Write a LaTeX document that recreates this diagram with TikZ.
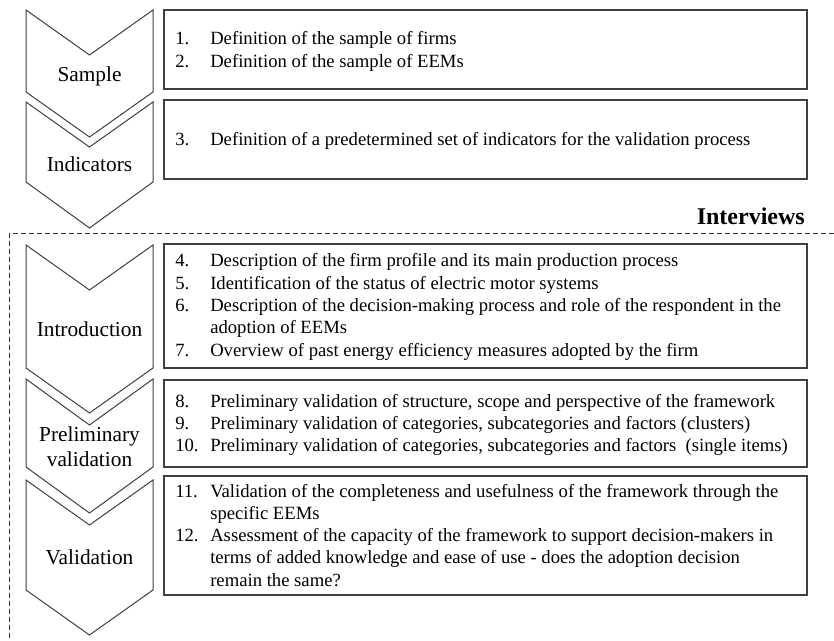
\documentclass[tikz,border=0pt]{standalone}
\usepackage{fontspec}
\setmainfont{Liberation Serif}
\usepackage{array}
\begin{document}
\begin{tikzpicture}[x=0.75pt,y=-0.75pt,
  chev/.style={draw=black!75, line width=0.75pt, fill=white, line join=miter},
  stepbox/.style={draw=black!75, line width=1.1pt},
  chevlabel/.style={font=\fontsize{16}{18.75}\selectfont, align=center, inner sep=0pt},
  itemtext/.style={font=\fontsize{14}{16.7}\selectfont, inner sep=0pt, anchor=base west},
  dashframe/.style={draw=black!80, line width=0.75pt, dash pattern=on 3.75pt off 2.25pt}
]
\useasboundingbox (0,0) rectangle (834,641);

% interviews frame
\coordinate (fr) at (834,234);
\coordinate (fc) at (9,234);
\coordinate (fb) at (9,641);
\draw[dashframe] (fr) -- (fc) -- (fb);
\node[font=\fontsize{18}{20}\selectfont\bfseries, anchor=base east, inner sep=0pt] (interviews) at (805,225) {Interviews};

% chevrons
\draw[chev] (26,10) -- (89.5,55) -- (153,10) -- (153,92) -- (89.5,137) -- (26,92) -- cycle;
\draw[chev] (26,102) -- (89.5,147) -- (153,102) -- (153,182) -- (89.5,228) -- (26,182) -- cycle;
\draw[chev] (26,245) -- (89.5,290) -- (153,245) -- (153,368) -- (89.5,413) -- (26,368) -- cycle;
\draw[chev] (26,379) -- (89.5,425) -- (153,379) -- (153,467) -- (89.5,513) -- (26,467) -- cycle;
\draw[chev] (26,480) -- (89.5,525) -- (153,480) -- (153,590) -- (89.5,635) -- (26,590) -- cycle;

\node[chevlabel, anchor=base] (lsample) at (89.5,82) {Sample};
\node[chevlabel, anchor=base] (lindic) at (89.5,172) {Indicators};
\node[chevlabel, anchor=base] (lintro) at (89.5,336) {Introduction};
\node[chevlabel, anchor=center] (lprelim) at (89.5,447) {Preliminary\\validation};
\node[chevlabel, anchor=base] (lvalid) at (89.5,564) {Validation};

% boxes
\draw[stepbox] (164,10) rectangle (807,89);
\draw[stepbox] (164,100) rectangle (807,179);
\draw[stepbox] (164,244) rectangle (807,368);
\draw[stepbox] (164,380) rectangle (807,467);
\draw[stepbox] (164,476) rectangle (807,595);

\node[itemtext] (t1) at (175,45) {\begin{tabular}[t]{@{}p{26.25pt}@{}l@{}}
1.&Definition of the sample of firms\\
2.&Definition of the sample of EEMs
\end{tabular}};
\node[itemtext] (t2) at (175,146) {\begin{tabular}[t]{@{}p{26.25pt}@{}l@{}}
3.&Definition of a predetermined set of indicators for the validation process
\end{tabular}};
\node[itemtext] (t3) at (175,267) {\begin{tabular}[t]{@{}p{26.25pt}@{}l@{}}
4.&Description of the firm profile and its main production process\\
5.&Identification of the status of electric motor systems\\
6.&Description of the decision-making process and role of the respondent in the\\
&adoption of EEMs\\
7.&Overview of past energy efficiency measures adopted by the firm
\end{tabular}};
\node[itemtext] (t4) at (175,407) {\begin{tabular}[t]{@{}p{26.25pt}@{}l@{}}
8.&Preliminary validation of structure, scope and perspective of the framework\\
9.&Preliminary validation of categories, subcategories and factors (clusters)\\
10.&Preliminary validation of categories, subcategories and factors\ \ (single items)
\end{tabular}};
\node[itemtext] (t5) at (175,497) {\begin{tabular}[t]{@{}p{26.25pt}@{}l@{}}
11.&Validation of the completeness and usefulness of the framework through the\\
&specific EEMs\\
12.&Assessment of the capacity of the framework to support decision-makers in\\
&terms of added knowledge and ease of use - does the adoption decision\\
&remain the same?
\end{tabular}};
\end{tikzpicture}
\end{document}
